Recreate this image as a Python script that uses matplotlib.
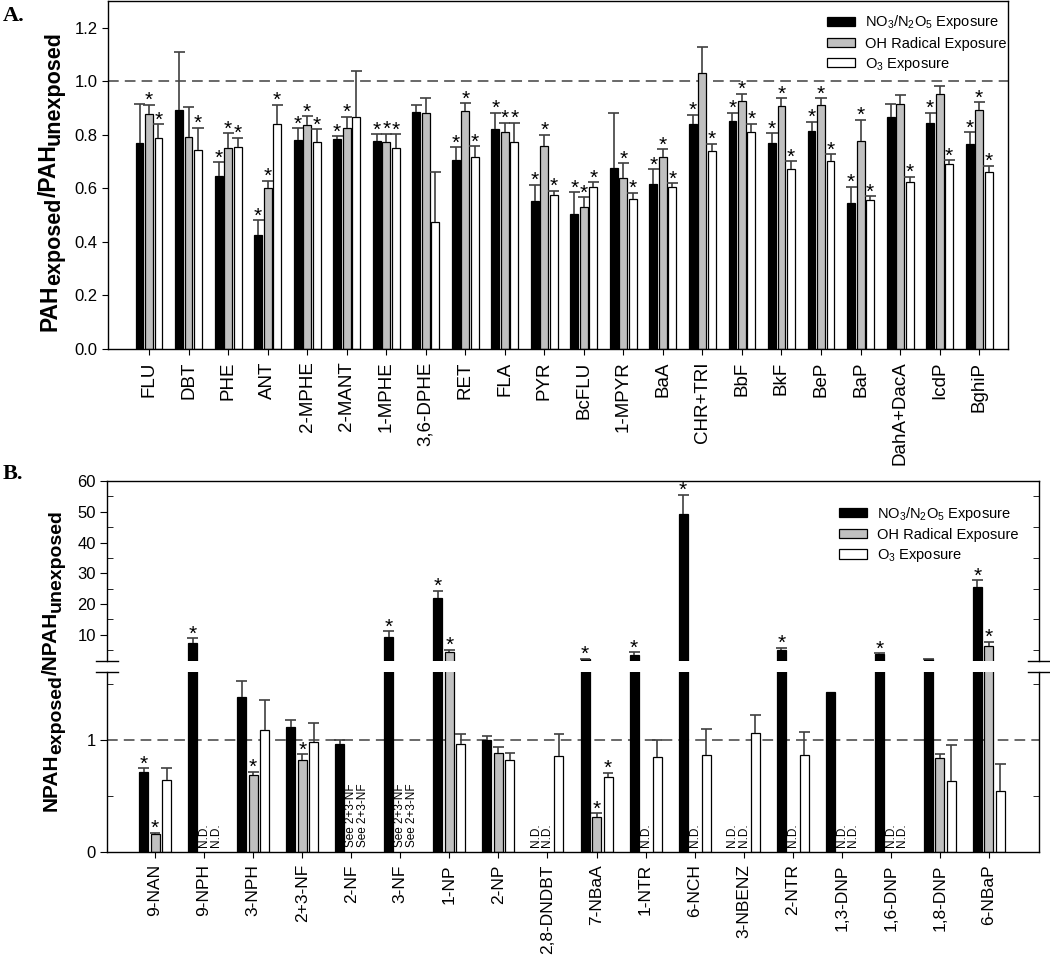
import numpy as np
import matplotlib
matplotlib.use('Agg')
import matplotlib.pyplot as plt
from matplotlib.transforms import IdentityTransform

plt.rcParams['font.family'] = ['Liberation Sans', 'DejaVu Sans']
plt.rcParams['mathtext.fontset'] = 'custom'
plt.rcParams['mathtext.rm'] = 'Liberation Sans'
plt.rcParams['mathtext.it'] = 'Liberation Sans:italic'
plt.rcParams['mathtext.bf'] = 'Liberation Sans:bold'

# ---------------- Panel A data ----------------
pah_labels = ['FLU', 'DBT', 'PHE', 'ANT', '2-MPHE', '2-MANT', '1-MPHE', '3,6-DPHE', 'RET', 'FLA',
              'PYR', 'BcFLU', '1-MPYR', 'BaA', 'CHR+TRI', 'BbF', 'BkF', 'BeP', 'BaP', 'DahA+DacA',
              'IcdP', 'BghiP']
pah_no3 = [0.768, 0.893, 0.647, 0.426, 0.780, 0.784, 0.776, 0.887, 0.706, 0.820, 0.554, 0.503,
           0.678, 0.618, 0.840, 0.851, 0.769, 0.815, 0.545, 0.865, 0.844, 0.767]
pah_no3_err = [0.149, 0.218, 0.050, 0.056, 0.045, 0.011, 0.026, 0.025, 0.048, 0.062, 0.060, 0.083,
               0.204, 0.054, 0.035, 0.031, 0.037, 0.034, 0.061, 0.049, 0.038, 0.043]
pah_oh = [0.878, 0.793, 0.752, 0.603, 0.835, 0.827, 0.774, 0.883, 0.888, 0.810, 0.757, 0.530,
          0.640, 0.718, 1.032, 0.928, 0.906, 0.911, 0.778, 0.917, 0.953, 0.894]
pah_oh_err = [0.035, 0.110, 0.054, 0.026, 0.035, 0.041, 0.031, 0.056, 0.031, 0.035, 0.044, 0.038,
              0.054, 0.029, 0.096, 0.026, 0.030, 0.025, 0.078, 0.030, 0.030, 0.028]
pah_o3 = [0.789, 0.743, 0.754, 0.840, 0.774, 0.866, 0.752, 0.476, 0.718, 0.774, 0.575, 0.605,
          0.559, 0.605, 0.739, 0.811, 0.671, 0.703, 0.556, 0.625, 0.690, 0.663]
pah_o3_err = [0.050, 0.084, 0.035, 0.073, 0.047, 0.171, 0.050, 0.185, 0.039, 0.071, 0.016, 0.017,
              0.024, 0.015, 0.028, 0.030, 0.031, 0.025, 0.015, 0.019, 0.016, 0.022]
pah_no3_sig = [0, 0, 1, 1, 1, 1, 1, 0, 1, 1, 1, 1, 0, 1, 1, 1, 1, 1, 1, 0, 1, 1]
pah_oh_sig = [1, 0, 1, 1, 1, 1, 1, 0, 1, 1, 1, 1, 1, 1, 0, 1, 1, 1, 1, 0, 0, 1]
pah_o3_sig = [1, 1, 1, 1, 1, 0, 1, 0, 1, 1, 1, 1, 1, 1, 1, 1, 1, 1, 1, 1, 1, 1]

# ---------------- Panel B data ----------------
nan = np.nan
npah_labels = ['9-NAN', '9-NPH', '3-NPH', '2+3-NF', '2-NF', '3-NF', '1-NP', '2-NP', '2,8-DNDBT',
               '7-NBaA', '1-NTR', '6-NCH', '3-NBENZ', '2-NTR', '1,3-DNP', '1,6-DNP', '1,8-DNP',
               '6-NBaP']
npah_no3 = [0.712, 7.3, 1.38, 1.112, 0.964, 9.4, 22.0, 1.0, nan, 2.1, 3.5, 49.2, nan, 5.2, 1.42,
            3.8, 2.0, 25.4]
npah_no3_err = [0.033, 1.6, 0.14, 0.066, 0.03, 1.7, 2.3, 0.03, nan, 0.2, 0.8, 6.3, nan, 0.55, nan,
                0.3, 0.15, 2.3]
npah_oh = [0.157, nan, 0.680, 0.822, nan, nan, 4.3, 0.884, nan, 0.311, nan, nan, nan, nan, nan,
           nan, 0.840, 6.3]
npah_oh_err = [0.012, nan, 0.032, 0.047, nan, nan, 0.8, 0.054, nan, 0.030, nan, nan, nan, nan, nan,
               nan, 0.029, 1.4]
npah_o3 = [0.638, nan, 1.089, 0.979, nan, nan, 0.958, 0.818, 0.854, 0.667, 0.845, 0.860, 1.059,
           0.860, nan, nan, 0.632, 0.543]
npah_o3_err = [0.107, nan, 0.264, 0.169, nan, nan, 0.089, 0.060, 0.196, 0.039, 0.155, 0.230, 0.161,
               0.210, nan, nan, 0.317, 0.237]
npah_no3_sig = [1, 1, 0, 0, 0, 1, 1, 0, 0, 1, 1, 1, 0, 1, 0, 1, 0, 1]
npah_oh_sig = [1, 0, 1, 1, 0, 0, 1, 0, 0, 1, 0, 0, 0, 0, 0, 0, 0, 1]
npah_o3_sig = [0, 0, 0, 0, 0, 0, 0, 0, 0, 1, 0, 0, 0, 0, 0, 0, 0, 0]
see_23nf = ['2-NF', '3-NF']

series_names = ['NO$_3$/N$_2$O$_5$ Exposure', 'OH Radical Exposure', 'O$_3$ Exposure']
series_colors = ['black', '#c0c0c0', 'white']

ECOL = '#404040'
W, H = 1050, 957
fig = plt.figure(figsize=(W / 100, H / 100), dpi=100)


def rect(l, t, r, b):
    return [l / W, 1 - b / H, (r - l) / W, (b - t) / H]


axA = fig.add_axes(rect(107.5, 1, 1008, 349))
axBu = fig.add_axes(rect(107, 481, 1039, 660.7))
axBl = fig.add_axes(rect(107, 672.3, 1039, 851.7))


def draw_err(ax, xs, vals, errs, cap, mask):
    xs = np.asarray(xs); vals = np.asarray(vals, float); errs = np.asarray(errs, float)
    m = mask & ~np.isnan(vals) & ~np.isnan(errs)
    tops = vals + errs
    ax.vlines(xs[m], vals[m], tops[m], color=ECOL, lw=1.2, zorder=3)
    ax.hlines(tops[m], xs[m] - cap, xs[m] + cap, color=ECOL, lw=1.2, zorder=3)


def draw_stars(ax, xs, vals, errs, sig, mask):
    for x, v, e, s, mk in zip(xs, vals, errs, sig, mask):
        if s and mk:
            top = v + (0 if np.isnan(e) else e)
            ax.annotate('*', (x, top), xytext=(0, -1), textcoords='offset points',
                        ha='center', va='baseline', fontsize=15, zorder=4)


# ---------------- Panel A ----------------
xa = np.arange(len(pah_labels))
offA, wA, capA = 0.24, 0.2, 0.14
dataA = [(pah_no3, pah_no3_err, pah_no3_sig), (pah_oh, pah_oh_err, pah_oh_sig),
         (pah_o3, pah_o3_err, pah_o3_sig)]
for k, (vals, errs, sig) in enumerate(dataA):
    xs = xa + (k - 1) * offA
    axA.bar(xs, vals, wA, color=series_colors[k], edgecolor='black', lw=0.9,
            label=series_names[k], zorder=2)
    allm = np.ones(len(xs), bool)
    draw_err(axA, xs, vals, errs, capA, allm)
    draw_stars(axA, xs, vals, errs, sig, allm)

axA.axhline(1.0, color='#404040', lw=1.1, dashes=(7, 4), zorder=1)
axA.set_xlim(-1.05, 21.73)
axA.set_ylim(0, 1.3)
axA.set_yticks(np.arange(0, 1.21, 0.2))
axA.set_yticklabels(['%.1f' % v for v in np.arange(0, 1.21, 0.2)])
axA.set_xticks(xa)
axA.set_xticklabels(pah_labels, rotation=90)
axA.tick_params(axis='y', direction='out', length=4, labelsize=12, pad=3)
axA.tick_params(axis='x', direction='out', length=4, labelsize=13.5, pad=5)
for sp in axA.spines.values():
    sp.set_linewidth(1.0)
axA.legend(loc='upper left', bbox_to_anchor=(0.793, 0.981), frameon=False, fontsize=10.5,
           handlelength=1.9, handleheight=0.6, handletextpad=0.7, labelspacing=0.35,
           borderpad=0.4, borderaxespad=0)

# ---------------- Panel B ----------------
xb = np.arange(len(npah_labels))
offB, wB, capB = 0.234, 0.183, 0.11
LOW_TOP = 1.6
dataB = [(npah_no3, npah_no3_err, npah_no3_sig), (npah_oh, npah_oh_err, npah_oh_sig),
         (npah_o3, npah_o3_err, npah_o3_sig)]
for k, (vals, errs, sig) in enumerate(dataB):
    xs = xb + (k - 1) * offB
    v = np.asarray(vals, float)
    low = np.nan_to_num(v, nan=0) < LOW_TOP
    axBl.bar(xs, v, wB, color=series_colors[k], edgecolor='black', lw=0.9,
             label=series_names[k], zorder=2)
    axBu.bar(xs, np.where(low, np.nan, v), wB, color=series_colors[k], edgecolor='black',
             lw=0.9, label=series_names[k], zorder=2)
    draw_err(axBl, xs, vals, errs, capB, low)
    draw_err(axBu, xs, vals, errs, capB, ~low)
    draw_stars(axBl, xs, v, np.asarray(errs, float), sig, low)
    draw_stars(axBu, xs, v, np.asarray(errs, float), sig, ~low)
    for x, val, lab in zip(xs, v, npah_labels):
        if np.isnan(val):
            txt = 'See 2+3-NF' if lab in see_23nf else 'N.D.'
            axBl.text(x, 0.04, txt, rotation=90, ha='center', va='bottom', fontsize=8.5)

axBl.axhline(1.0, color='#404040', lw=1.1, dashes=(7, 4), zorder=1)
for ax in (axBu, axBl):
    ax.set_xlim(-0.98, 18.02)
    for sp in ax.spines.values():
        sp.set_linewidth(1.0)
axBu.set_ylim(LOW_TOP, 60)
axBl.set_ylim(0, LOW_TOP)
axBu.spines['bottom'].set_visible(False)
axBl.spines['top'].set_visible(False)
axBu.set_yticks([10, 20, 30, 40, 50, 60])
axBu.set_yticks([5, 15, 25, 35, 45, 55], minor=True)
axBl.set_yticks([0, 1])
axBl.set_yticks([0.5, 1.5], minor=True)
for ax in (axBu, axBl):
    ax.tick_params(axis='y', which='major', direction='out', length=5, left=True, right=False,
                   labelsize=12, pad=3)
    ax.tick_params(axis='y', which='minor', direction='in', length=4, left=True, right=True)
axBu.tick_params(axis='x', bottom=False, labelbottom=False)
axBl.set_xticks(xb)
axBl.set_xticklabels(npah_labels, rotation=90)
axBl.tick_params(axis='x', direction='out', length=4, labelsize=12.5, pad=5)

# axis-break marks
dx = 11 / 932
for ax, yy in ((axBu, 0), (axBl, 1)):
    for xc in (0, 1):
        ax.plot([xc - dx, xc + dx], [yy, yy], transform=ax.transAxes, color='black', lw=1.0,
                clip_on=False, zorder=5)

axBu.legend(loc='upper left', bbox_to_anchor=(0.779, 0.90), frameon=False, fontsize=10.5,
            handlelength=1.9, handleheight=0.6, handletextpad=0.7, labelspacing=0.35,
            borderpad=0.4, borderaxespad=0)

# panel letters
fig.text(3 / W, 1 - 16 / H, 'A.', fontfamily='Liberation Serif', fontweight='bold', fontsize=16,
         va='center', ha='left')
fig.text(3 / W, 1 - 474 / H, 'B.', fontfamily='Liberation Serif', fontweight='bold', fontsize=16,
         va='center', ha='left')

# y labels with large subscripts built from pieces
renderer = fig.canvas.get_renderer()


def stacked_label(pieces, x_base, y_center_img):
    texts, lengths = [], []
    for s, size, shift in pieces:
        t = fig.text(0, 0, s, rotation=90, rotation_mode='anchor', ha='left', va='baseline',
                     fontsize=size, fontweight='bold', transform=IdentityTransform())
        bb = t.get_window_extent(renderer)
        texts.append(t)
        lengths.append(bb.height)
    y = (H - y_center_img) - sum(lengths) / 2
    for t, L, (s, size, shift) in zip(texts, lengths, pieces):
        t.set_position((x_base + shift, y))
        y += L


stacked_label([('PAH', 16.5, 0), ('exposed', 15.5, 4), ('/PAH', 16.5, 0), ('unexposed', 15.5, 4)],
              56, 181)
stacked_label([('NPAH', 15, 0), ('exposed', 14, 4), ('/NPAH', 15, 0), ('unexposed', 14, 4)],
              57, 660)

fig.savefig('out.png', dpi=100)
